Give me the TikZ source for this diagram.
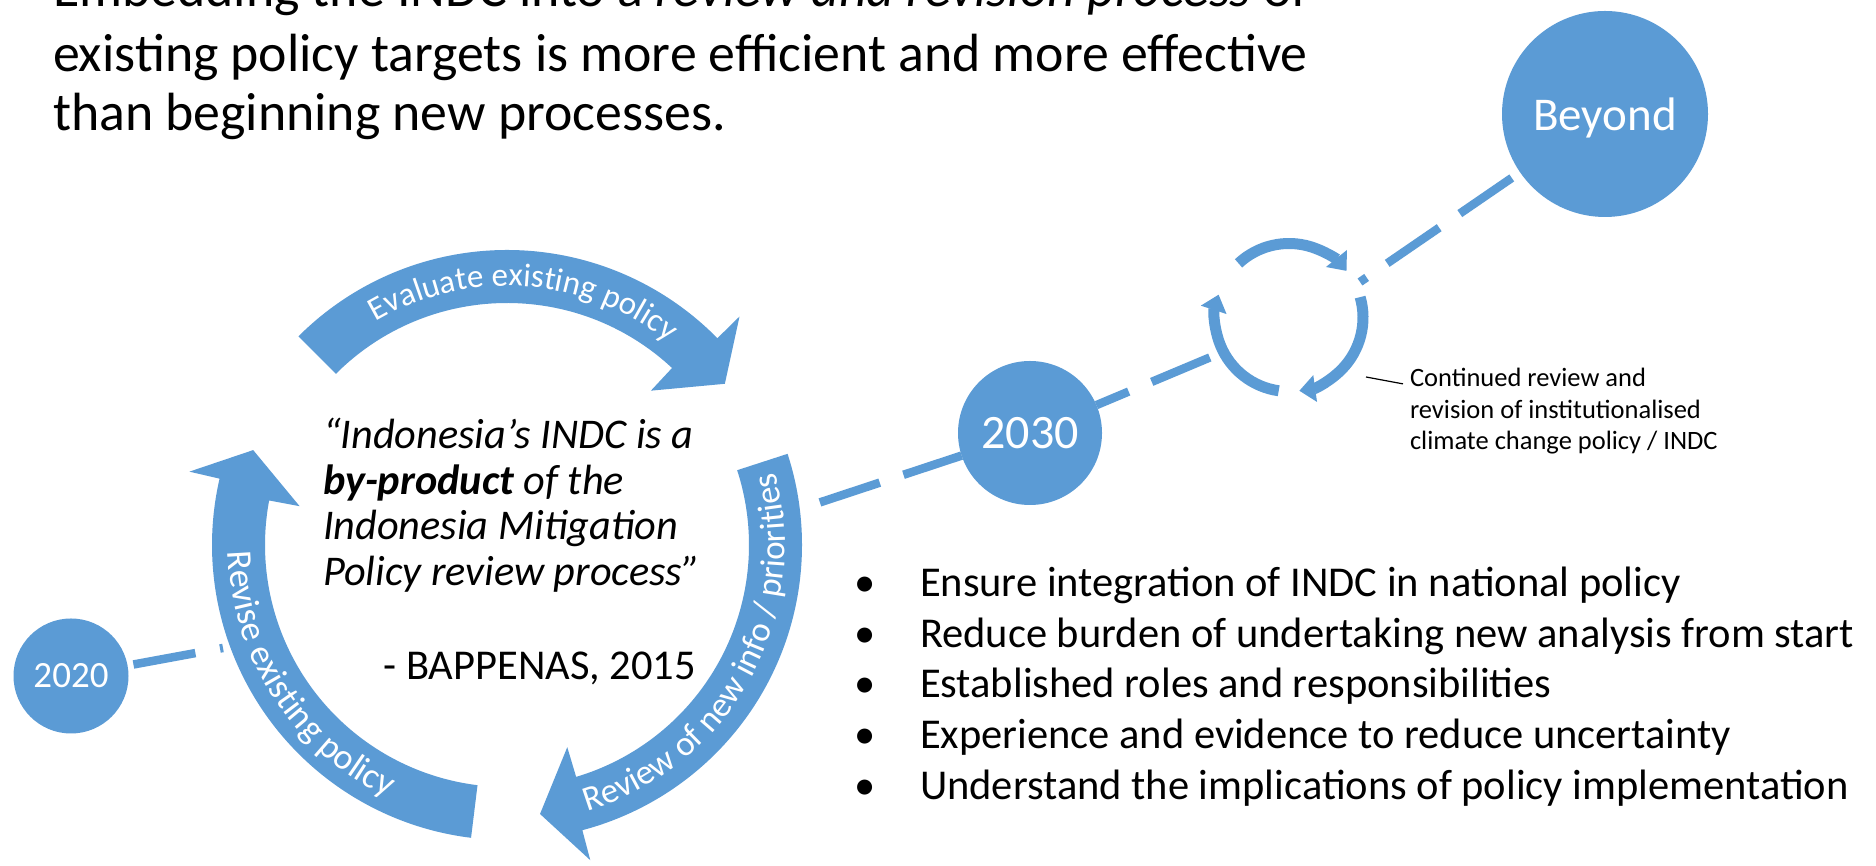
\documentclass[tikz,border=0pt]{standalone}
\usepackage{fontspec}
\setmainfont{Carlito}
\usetikzlibrary{arrows.meta,decorations.text}
\definecolor{cycblue}{RGB}{91,155,213}
\newcommand{\fsz}[1]{\fontsize{#1}{#1}\selectfont}
\newcommand{\arcfont}[1]{\color{white}\fsz{#1}}
\tikzset{
  yearnode/.style={circle, fill=cycblue, text=white, inner sep=0pt, outer sep=0pt, text depth=0pt},
  link/.style={cycblue, line width=8.5pt, dash pattern=on 63pt off 25pt},
  ring/.style={cycblue, line width=11pt, -{Triangle[width=26pt,length=16pt]}},
  lbl/.style={inner sep=0pt, outer sep=0pt},
}
\begin{document}
\begin{tikzpicture}[x=1pt, y=1pt]
\fill[white] (0,0) rectangle (1876,866);
\useasboundingbox (0,0) rectangle (1876,866);

\foreach \i/\yy/\txt in {1/859/{Embedding the INDC into a \textit{review and revision process} of},
  2/794.5/{existing policy targets is more efficient and more effective},
  3/735.5/{than beginning new processes.}}
  \node[lbl, anchor=base west, font=\fsz{53.8}] (title\i) at (53,\yy) {\txt};

\node[yearnode, minimum size=115pt, font=\fsz{37}] (y2020) at (71,190) {2020};
\node[yearnode, minimum size=144pt, font=\fsz{48}] (y2030) at (1030,433) {2030};
\node[yearnode, minimum size=206pt, font=\fsz{47}] (beyond) at (1605,752) {Beyond};

\coordinate (cycA) at (223,218);
\coordinate (cycB) at (800,357);
\coordinate (cycQ) at (1211,509);
\coordinate (cycP) at (1360,584);
\coordinate (lead) at (1366,489);

\draw[link, dash phase=82pt] (y2020) -- (cycA);
\draw[link, dash phase=67pt] (cycB) -- (y2030);
\draw[link, dash phase=28pt] (y2030) -- (cycQ);
\draw[link, dash phase=55pt] (cycP) -- (beyond);

% review cycle
\begin{scope}[shift={(507,321)}]
\foreach \tl/\bo/\bi/\tp in {135/44.5/47/36.5, 18/-75.2/-73.4/-83, 263/167/169.4/159.5}
  \fill[cycblue] (\tl:295) arc[start angle=\tl, end angle=\bo, radius=295] -- (\bo:326) -- (\tp:271)
    -- (\bi:211) -- (\bi:242) arc[start angle=\bi, end angle=\tl, radius=242] -- cycle;
\path[decorate, decoration={text along path, text align=center,
  text={|\arcfont{33}|Evaluate existing policy}}] (128:259) arc[start angle=128, end angle=44, radius=259];
\path[decorate, decoration={text along path, text align=center,
  text={|\arcfont{36}|Revise existing policy}}] (168:279) arc[start angle=168, end angle=258, radius=279];
\path[decorate, decoration={text along path, text align=center,
  text={|\arcfont{35}|Review of new info / priorities}}] (-82:278) arc[start angle=-82, end angle=24, radius=278];
\end{scope}

\begin{scope}[shift={(1289,548.5)}]
\foreach \from/\to in {133/39, 16/-82, 262/162}
  \draw[ring] (\from:74) arc[start angle=\from, end angle=\to, radius=74];
\end{scope}

\foreach \i/\yy/\txt in {1/417/{“Indonesia’s INDC is a}, 2/371/{\textbf{by-product} of the},
  3/326/{Indonesia Mitigation}, 4/280/{Policy review process”}}
  \node[lbl, anchor=base west, font={\fsz{42.3}\itshape}] (quote\i) at (323,\yy) {\txt};
\node[lbl, anchor=base east, font=\fsz{42.5}] (source) at (696,186) {- BAPPENAS, 2015};

\foreach \i/\yy/\txt in {1/269/{Ensure integration of INDC in national policy},
  2/218/{Reduce burden of undertaking new analysis from start},
  3/168/{Established roles and responsibilities},
  4/117/{Experience and evidence to reduce uncertainty},
  5/66/{Understand the implications of policy implementation}}
{
  \node[lbl, anchor=base, font=\fsz{42.5}] (dot\i) at (865,\yy) {•};
  \node[lbl, anchor=base west, font=\fsz{42.5}] (item\i) at (920,\yy) {\txt};
}

\foreach \i/\yy/\txt in {1/479/{Continued review and}, 2/447/{revision of institutionalised},
  3/416/{climate change policy / INDC}}
  \node[lbl, anchor=base west, font=\fsz{26.5}] (note\i) at (1410,\yy) {\txt};
\draw[line width=1.2pt] (lead) -- ([xshift=-7pt,yshift=-6pt]note1.west);
\end{tikzpicture}
\end{document}
